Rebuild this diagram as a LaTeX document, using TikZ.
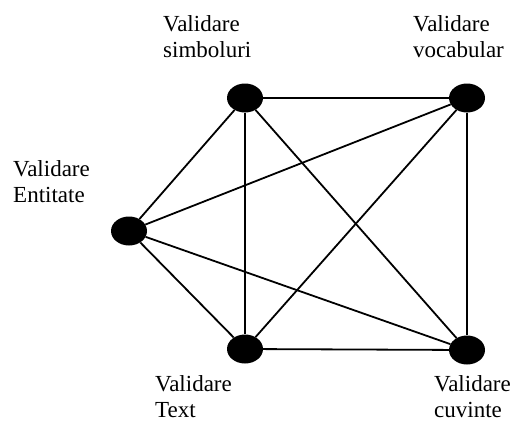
\documentclass[tikz,border=0pt]{standalone}
\usepackage{fontspec}
\setmainfont{Liberation Serif}
\usetikzlibrary{shapes.geometric}
\begin{document}
\begin{tikzpicture}[x=1pt,y=-1pt,
  vertex/.style={ellipse,fill=black,draw=none,minimum width=36pt,minimum height=29pt,inner sep=0pt},
  edge/.style={line width=1.8pt},
  lbl/.style={anchor=base west,align=left,inner sep=0pt,
    font=\fontsize{23pt}{25.5pt}\selectfont}]
  \useasboundingbox (0,0) rectangle (513,423);

  % vertices
  \node[vertex] (S) at (245,98) {};
  \node[vertex] (V) at (467,98) {};
  \node[vertex] (E) at (129,231) {};
  \node[vertex] (T) at (245,349) {};
  \node[vertex] (C) at (467,350) {};

  % every pair of vertices is joined
  \draw[edge] (S) -- (V);
  \draw[edge] (S) -- (E);
  \draw[edge] (S) -- (T);
  \draw[edge] (S) -- (C);
  \draw[edge] (V) -- (E);
  \draw[edge] (V) -- (T);
  \draw[edge] (V) -- (C);
  \draw[edge] (E) -- (T);
  \draw[edge] (E) -- (C);
  \draw[edge] (T) -- (C);

  % labels (anchored at the baseline of their last line)
  \node[lbl] (lS) at (163,57) {Validare\\simboluri};
  \node[lbl] (lV) at (413,57) {Validare\\vocabular};
  \node[lbl] (lE) at (13,202) {Validare\\Entitate};
  \node[lbl] (lT) at (155,417) {Validare\\Text};
  \node[lbl] (lC) at (434,417) {Validare\\cuvinte};
\end{tikzpicture}
\end{document}
